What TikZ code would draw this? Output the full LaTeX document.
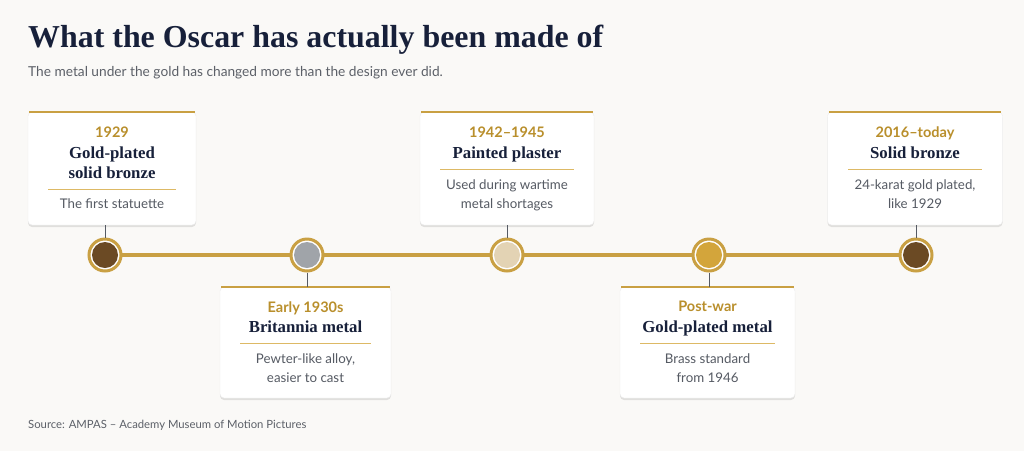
\documentclass[tikz,border=0pt]{standalone}
\usepackage{fontspec}
\setmainfont{Liberation Serif}
\newfontfamily\lato{Lato}
\usetikzlibrary{shadows}
\definecolor{bg}{HTML}{FAF9F7}
\definecolor{gold}{HTML}{C9A043}
\definecolor{yeargold}{HTML}{B98F2C}
\definecolor{navy}{HTML}{17203A}
\definecolor{descgray}{HTML}{555A63}
\definecolor{subgray}{HTML}{5C6068}
\definecolor{sepgold}{HTML}{DDB965}
\definecolor{bronze}{HTML}{6B4A24}
\definecolor{britannia}{HTML}{A0A4A9}
\definecolor{plaster}{HTML}{E3D3B4}
\definecolor{goldfill}{HTML}{D3A53B}
\tikzset{
  x=1pt, y=-1pt,
  card/.style={draw=black!8, line width=0.4pt, fill=white, rounded corners=4pt, inner sep=0pt,
    drop shadow={shadow xshift=0pt, shadow yshift=-2pt, opacity=0.10, fill=black}},
  yeartxt/.style={anchor=base, text=yeargold, font=\lato\bfseries\fontsize{14.5}{17}\selectfont, inner sep=0pt},
  headtxt/.style={anchor=base, text=navy, font=\bfseries\fontsize{16.8}{20}\selectfont, inner sep=0pt, align=center},
  desctxt/.style={anchor=base, text=descgray, font=\lato\fontsize{13.3}{18.5}\selectfont, inner sep=0pt, align=center},
  sepline/.style={draw=sepgold, line width=1pt},
  topbar/.style={draw=gold, line width=2.5pt},
  stem/.style={draw=descgray, line width=0.9pt},
  ring/.style={circle, draw=gold, line width=3pt, fill=white, minimum size=32pt, inner sep=0pt},
  dot/.style={circle, minimum size=26pt, inner sep=0pt},
  timeline/.style={draw=gold, line width=3.8pt}
}
\begin{document}
\begin{tikzpicture}
\fill[bg] (0,0) rectangle (1024,451);
\useasboundingbox (0,0) rectangle (1024,451);

% title
\node[anchor=base west, inner sep=0pt, text=navy, font=\bfseries\fontsize{31.9}{34}\selectfont] (title) at (28,47) {What the Oscar has actually been made of};
\node[anchor=base west, inner sep=0pt, text=subgray, font=\lato\fontsize{13.7}{16}\selectfont] (subtitle) at (28,76) {The metal under the gold has changed more than the design ever did.};

% timeline
\coordinate (tl0) at (105,255);
\coordinate (tl1) at (916,255);
\draw[timeline] (tl0) -- (tl1);

% markers
\node[ring] (r1) at (105,255) {};
\node[dot, fill=bronze] (d1) at (105,255) {};
\node[ring] (r2) at (307,255) {};
\node[dot, fill=britannia] (d2) at (307,255) {};
\node[ring] (r3) at (507,255) {};
\node[dot, fill=plaster] (d3) at (507,255) {};
\node[ring] (r4) at (709,255) {};
\node[dot, fill=goldfill] (d4) at (709,255) {};
\node[ring] (r5) at (916,255) {};
\node[dot, fill=bronze] (d5) at (916,255) {};

% cards
\node[card, minimum width=168pt, minimum height=113pt] (c1) at (112,168.5) {};
\node[card, minimum width=174pt, minimum height=113pt] (c3) at (507,168.5) {};
\node[card, minimum width=175pt, minimum height=113pt] (c5) at (915,168.5) {};
\node[card, minimum width=171pt, minimum height=111pt] (c2) at (305.5,342.5) {};
\node[card, minimum width=175pt, minimum height=111pt] (c4) at (707.5,342.5) {};

\foreach \c in {c1,c2,c3,c4,c5}{
  \draw[topbar] ([xshift=1.5pt]\c.north west) -- ([xshift=-1.5pt]\c.north east);
}

% stems
\draw[stem] (c1.south -| r1) -- (r1.north);
\draw[stem] (c3.south -| r3) -- (r3.north);
\draw[stem] (c5.south -| r5) -- (r5.north);
\draw[stem] (r2.south) -- (c2.north -| r2);
\draw[stem] (r4.south) -- (c4.north -| r4);

% card 1
\node[yeartxt] (y1) at (112,137) {1929};
\node[headtxt] (h1) at (112,178) {Gold-plated\\solid bronze};
\coordinate (s1a) at (48,189); \coordinate (s1b) at (176,189);
\draw[sepline] (s1a) -- (s1b);
\node[desctxt] (t1) at (112,208) {The first statuette};

% card 3
\node[yeartxt] (y3) at (507,137) {1942–1945};
\node[headtxt] (h3) at (507,158) {Painted plaster};
\coordinate (s3a) at (440,169); \coordinate (s3b) at (574,169);
\draw[sepline] (s3a) -- (s3b);
\node[desctxt] (t3) at (507,208) {Used during wartime\\metal shortages};

% card 5
\node[yeartxt] (y5) at (915,137) {2016–today};
\node[headtxt] (h5) at (915,158) {Solid bronze};
\coordinate (s5a) at (848,169); \coordinate (s5b) at (982,169);
\draw[sepline] (s5a) -- (s5b);
\node[desctxt] (t5) at (915,208) {24-karat gold plated,\\like 1929};

% card 2
\node[yeartxt] (y2) at (305.5,312) {Early 1930s};
\node[headtxt] (h2) at (305.5,332) {Britannia metal};
\coordinate (s2a) at (240,343); \coordinate (s2b) at (371,343);
\draw[sepline] (s2a) -- (s2b);
\node[desctxt] (t2) at (305.5,382) {Pewter-like alloy,\\easier to cast};

% card 4
\node[yeartxt] (y4) at (707.5,311) {Post-war};
\node[headtxt] (h4) at (707.5,332) {Gold-plated metal};
\coordinate (s4a) at (640,343); \coordinate (s4b) at (775,343);
\draw[sepline] (s4a) -- (s4b);
\node[desctxt] (t4) at (707.5,382) {Brass standard\\from 1946};

% source
\node[anchor=base west, inner sep=0pt, text=subgray, font=\lato\fontsize{11.3}{13}\selectfont] (source) at (28,428) {Source: AMPAS – Academy Museum of Motion Pictures};
\end{tikzpicture}
\end{document}
